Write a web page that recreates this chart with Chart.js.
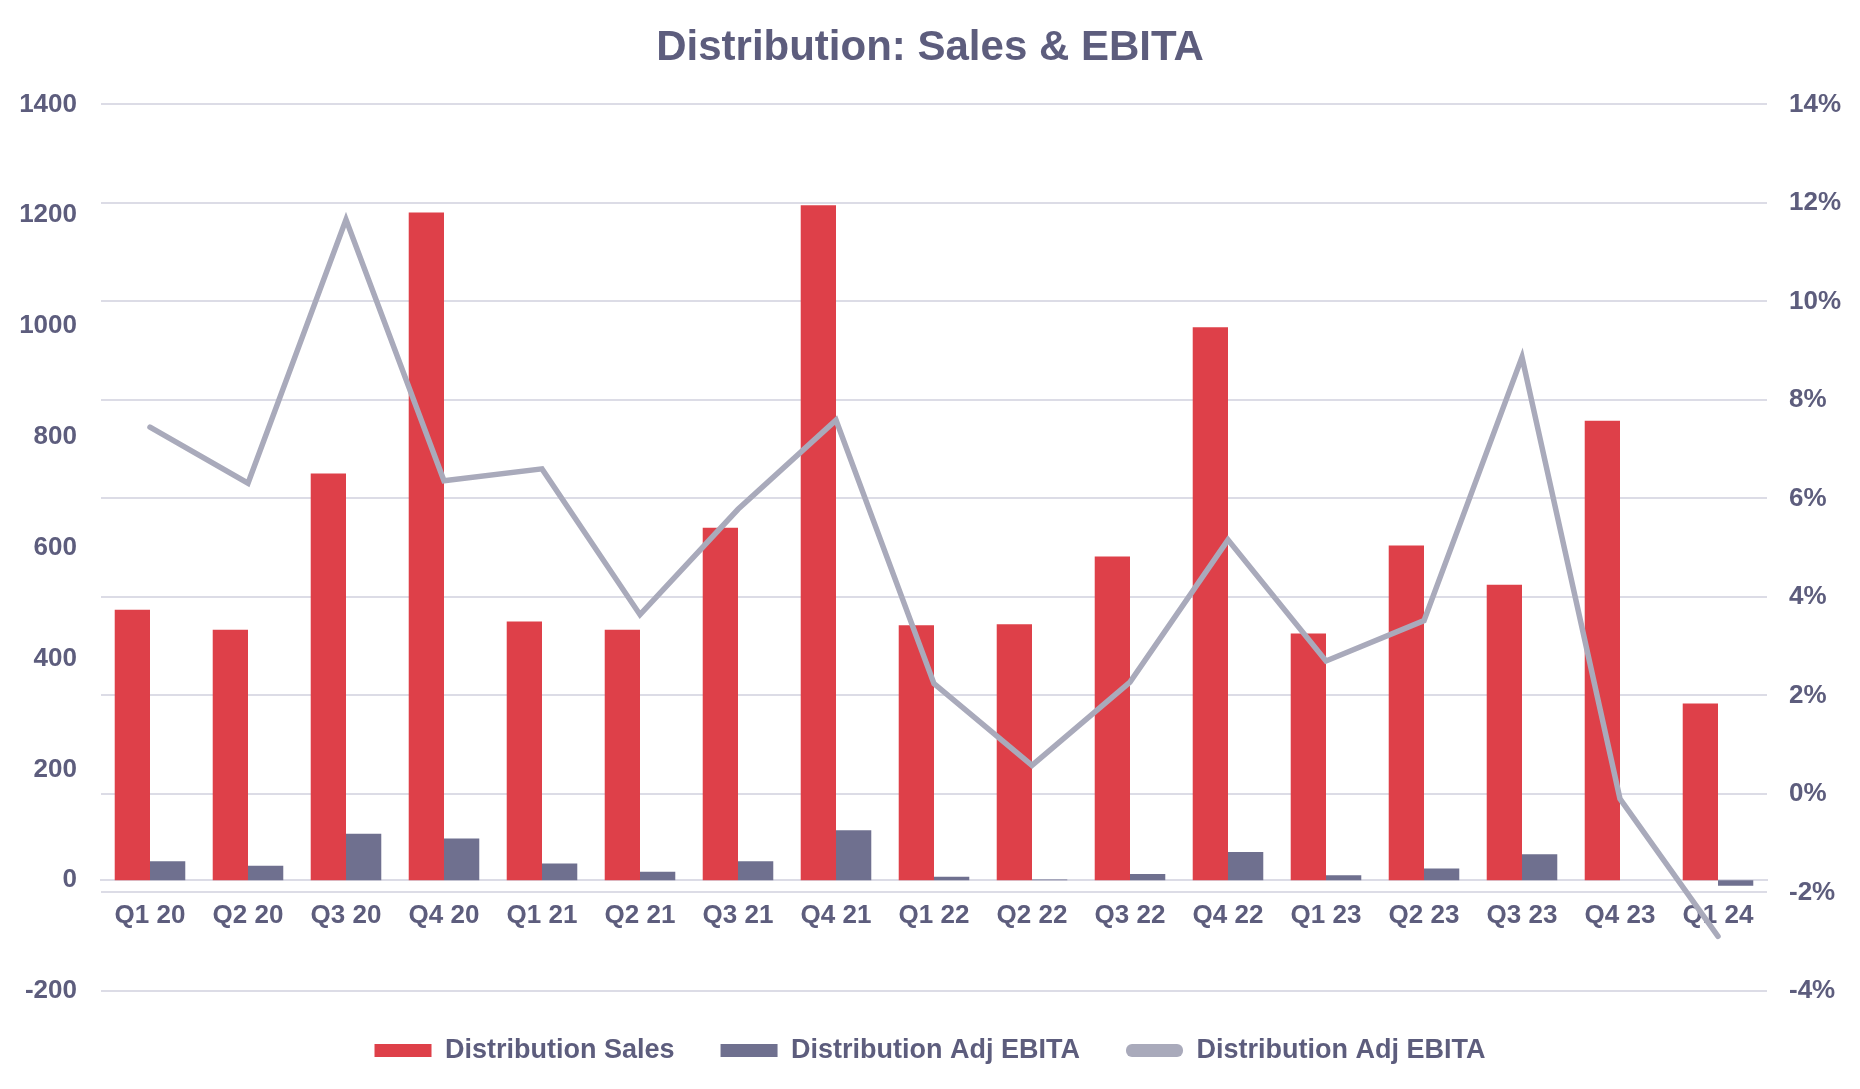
<!DOCTYPE html>
<html>
<head>
<meta charset="utf-8">
<title>Distribution: Sales & EBITA</title>
<script src="https://cdn.jsdelivr.net/npm/chart.js@4.4.1/dist/chart.umd.min.js"></script>
<style>
  html, body { margin: 0; padding: 0; background: #fff; }
  #wrap { width: 1860px; height: 1089px; position: relative; }
</style>
</head>
<body>
<div id="wrap"><canvas id="chart"></canvas></div>
<script>
// ---- data ----
const quarters = ['Q1 20', 'Q2 20', 'Q3 20', 'Q4 20', 'Q1 21', 'Q2 21', 'Q3 21', 'Q4 21',
  'Q1 22', 'Q2 22', 'Q3 22', 'Q4 22', 'Q1 23', 'Q2 23', 'Q3 23', 'Q4 23', 'Q1 24'];
const sales = [488, 452, 734, 1205, 467, 452, 636, 1218, 460, 462, 584, 998, 445, 604, 533, 829, 319];
const adjEbita = [34, 26, 84, 75, 30, 15, 34, 90, 6, 1, 11, 51, 9, 21, 47, 0, -10];
const marginPct = [7.45, 6.31, 11.66, 6.36, 6.6, 3.64, 5.78, 7.59, 2.24, 0.58, 2.27, 5.16, 2.7, 3.52, 8.87, -0.1, -2.89];

// ---- theme ----
const TXT = '#5d5d7d';
const GRID = '#dcdce6';
const FONT = 'Liberation Sans, Arial, sans-serif';
const tickFont = { size: 26, weight: 'bold', family: FONT };

// legend items: keep dataset order, round the line item like a stroke
function legendItems(chart) {
  const items = Chart.defaults.plugins.legend.labels.generateLabels(chart);
  items.sort((a, b) => a.datasetIndex - b.datasetIndex);
  items.forEach(it => {
    if (chart.data.datasets[it.datasetIndex].type === 'line') {
      it.lineWidth = 0;
      it.borderRadius = 6;
    }
  });
  return items;
}

const ctx = document.getElementById('chart').getContext('2d');
new Chart(ctx, {
  type: 'bar',
  data: {
    labels: quarters,
    datasets: [
      { label: 'Distribution Sales', data: sales, backgroundColor: '#de4049', yAxisID: 'y', order: 2,
        categoryPercentage: 0.72, barPercentage: 1.0 },
      { label: 'Distribution Adj EBITA', data: adjEbita, backgroundColor: '#6f708f', yAxisID: 'y', order: 3,
        categoryPercentage: 0.72, barPercentage: 1.0 },
      { type: 'line', label: 'Distribution Adj EBITA', data: marginPct, yAxisID: 'y1', order: 1,
        borderColor: '#a9aabb', backgroundColor: '#a9aabb', borderWidth: 5.5, pointRadius: 0,
        tension: 0, borderCapStyle: 'round', borderJoinStyle: 'miter' },
    ]
  },
  options: {
    responsive: true, maintainAspectRatio: false, animation: false,
    layout: { padding: { top: 0, bottom: 15, left: 0, right: 0 } },
    plugins: {
      title: {
        display: true, text: 'Distribution: Sales & EBITA', color: TXT,
        font: { size: 42, weight: 'bold', family: FONT },
        padding: { top: 23, bottom: 31 }
      },
      legend: {
        position: 'bottom',
        labels: {
          color: TXT, font: { size: 27, weight: 'bold', family: FONT },
          boxWidth: 57, boxHeight: 13, padding: 46,
          useBorderRadius: true, borderRadius: 0,
          generateLabels: legendItems,
        }
      },
      tooltip: { enabled: false }
    },
    scales: {
      x: {
        position: { y: 0 },
        offset: true,
        grid: { display: false, drawTicks: false },
        border: { display: true, color: GRID, width: 2 },
        ticks: { color: TXT, font: tickFont, padding: 20, maxRotation: 0, autoSkip: false },
      },
      y: {
        position: 'left', min: -200, max: 1400,
        grid: { display: false, drawTicks: false },
        border: { display: false },
        ticks: { stepSize: 200, color: TXT, font: tickFont, padding: 24, callback: v => String(v) },
        afterFit(scale) { scale.width = 101; },
      },
      y1: {
        position: 'right', min: -4, max: 14,
        grid: { color: GRID, lineWidth: 2, drawTicks: false },
        border: { display: false },
        ticks: { stepSize: 2, color: TXT, font: tickFont, padding: 22, callback: v => v + '%' },
        afterFit(scale) { scale.width = 93; },
      }
    }
  }
});
</script>
</body>
</html>
